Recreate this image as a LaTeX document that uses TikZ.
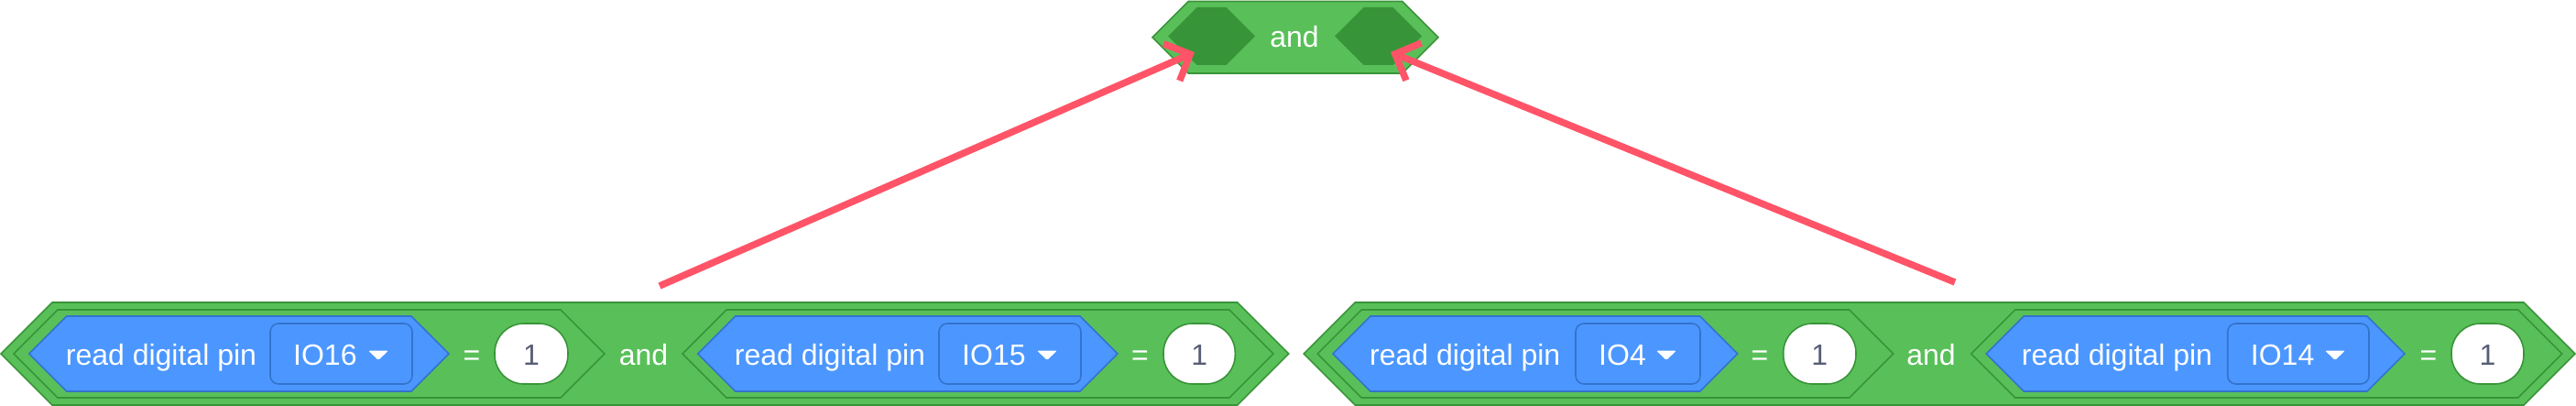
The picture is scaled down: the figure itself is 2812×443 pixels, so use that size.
\documentclass[tikz,border=0pt]{standalone}
\usepackage{fontspec}
\setmainfont{Liberation Sans}
\usetikzlibrary{arrows.meta}
\definecolor{opgreen}{HTML}{59C059}
\definecolor{opborder}{HTML}{389438}
\definecolor{sensblue}{HTML}{4C97FF}
\definecolor{sensborder}{HTML}{3373CC}
\definecolor{numgray}{HTML}{575E75}
\definecolor{arrowred}{HTML}{FF5468}
% hexagon: style, left tip x, right tip x, top y, bottom y
\newcommand\hexshape[5]{\path[#1] (#2,{(#4+#5)/2}) -- ({#2+(#5-#4)/2},#4) -- ({#3-(#5-#4)/2},#4) -- (#3,{(#4+#5)/2}) -- ({#3-(#5-#4)/2},#5) -- ({#2+(#5-#4)/2},#5) -- cycle;}
% dropdown: name, left x, right x, label
\newcommand\ddmenu[4]{%
  \draw[ddbox] (#2,353) rectangle (#3,419);
  \node[lbl, anchor=base west] (#1) at ({#2+25},398.5) {#4};
  \fill[white, rounded corners=1.5pt] ({#3-48},382.5) -- ({#3-26},382.5) -- ({#3-37},393) -- cycle;}
% value oval: name, left x, right x
\newcommand\valoval[3]{%
  \draw[ovalbox] (#2,353) rectangle (#3,419);
  \node[numlbl, anchor=base] (#1) at ({(#2+#3)/2},398.5) {1};}
\tikzset{
  outerblk/.style={fill=opgreen, draw=opborder, line width=1.6pt, line join=miter},
  eqblk/.style={fill=opgreen, draw=opborder, line width=1.6pt},
  slotblk/.style={fill=opborder},
  sensblk/.style={fill=sensblue, draw=sensborder, line width=1.6pt},
  ddbox/.style={fill=sensblue, draw=sensborder, line width=1.6pt, rounded corners=9pt},
  ovalbox/.style={fill=white, draw=opborder, line width=1.6pt, rounded corners=32pt},
  lbl/.style={text=white, font=\fontsize{32}{38}\selectfont, inner sep=0pt},
  numlbl/.style={text=numgray, font=\fontsize{32}{38}\selectfont, inner sep=0pt},
  arrowline/.style={draw=arrowred, line width=7.5pt, -{Straight Barb[length=22pt,width=44pt]}}
}
\begin{document}
\begin{tikzpicture}[x=1pt,y=-1pt]
\useasboundingbox (0,0) rectangle (2812,443);
% ---- top "and" block
\hexshape{outerblk}{1258}{1570}{1.5}{80}
\hexshape{slotblk}{1275}{1370}{8}{71}
\hexshape{slotblk}{1457}{1552}{8}{71}
\node[lbl, anchor=base] (topand) at (1413,51.5) {and};
\coordinate (lslot) at (1304,57);
\coordinate (rslot) at (1518,57);
% ---- bottom-left block
\hexshape{outerblk}{1}{1406.7}{330}{442}
\hexshape{eqblk}{15}{660}{338}{434}
\hexshape{sensblk}{31.7}{490}{345}{427}
\node[lbl, anchor=base west] (r1) at (71.7,398.5) {read digital pin};
\ddmenu{d1}{295}{450}{IO16}
\node[lbl, anchor=base] (e1) at (515,398.5) {=};
\valoval{v1}{540}{620}
\node[lbl, anchor=base] (a1) at (702.5,398.5) {and};
\hexshape{eqblk}{745}{1390}{338}{434}
\hexshape{sensblk}{761.7}{1220}{345}{427}
\node[lbl, anchor=base west] (r2) at (801.7,398.5) {read digital pin};
\ddmenu{d2}{1025}{1180}{IO15}
\node[lbl, anchor=base] (e2) at (1244.5,398.5) {=};
\valoval{v2}{1270}{1348.3}
% ---- bottom-right block
\hexshape{outerblk}{1423.3}{2811}{330}{442}
\hexshape{eqblk}{1438.3}{2066.7}{338}{434}
\hexshape{sensblk}{1455}{1896.7}{345}{427}
\node[lbl, anchor=base west] (r3) at (1495,398.5) {read digital pin};
\ddmenu{d3}{1720}{1856}{IO4}
\node[lbl, anchor=base] (e3) at (1921,398.5) {=};
\valoval{v3}{1946.7}{2026}
\node[lbl, anchor=base] (a2) at (2108,398.5) {and};
\hexshape{eqblk}{2151.7}{2796.7}{338}{434}
\hexshape{sensblk}{2168.3}{2625}{345}{427}
\node[lbl, anchor=base west] (r4) at (2206.7,398.5) {read digital pin};
\ddmenu{d4}{2431.7}{2586}{IO14}
\node[lbl, anchor=base] (e4) at (2651,398.5) {=};
\valoval{v4}{2676}{2755}
% ---- arrows
\coordinate (lstart) at (720,312);
\coordinate (rstart) at (2134,308);
\draw[arrowline] (lstart) -- (lslot);
\draw[arrowline] (rstart) -- (rslot);
\end{tikzpicture}
\end{document}
